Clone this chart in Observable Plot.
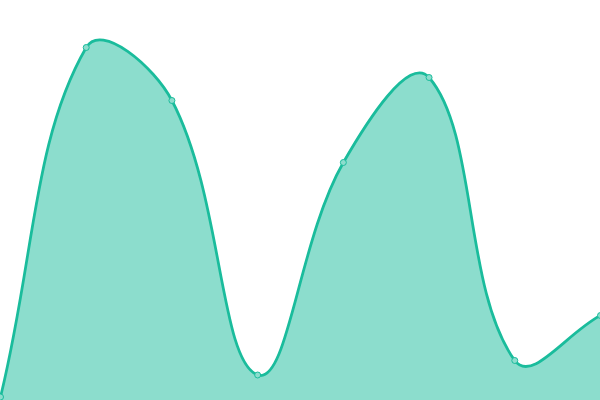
<!DOCTYPE html>
<html><head><meta charset="utf-8">
<script src="https://cdn.jsdelivr.net/npm/d3@7"></script>
<script src="https://cdn.jsdelivr.net/npm/@observablehq/plot@0.6"></script>
<style>body{margin:0;background:#fff}</style>
</head><body><div id="chart"></div>
<script>
const steps = [0, 1, 2, 3, 4, 5, 6, 7];
const values = [3.5, 353, 300, 25.5, 238, 323, 40, 85];
const data = steps.map((s, i) => ({x: s, y: values[i]}));

// spline with distance-weighted control points (tension 0.4), clamped to the plot area
function splineCurve(tension, W, H) {
  return function(context) {
    let line = NaN, xs = [], ys = [];
    const cx = v => Math.max(0, Math.min(W, v));
    const cy = v => Math.max(0, Math.min(H, v));
    return {
      areaStart() { line = 0; },
      areaEnd() { line = NaN; },
      lineStart() { xs = []; ys = []; },
      lineEnd() {
        const n = xs.length;
        if (n) {
          if (line) context.lineTo(xs[0], ys[0]); else context.moveTo(xs[0], ys[0]);
          const cp = [];
          for (let i = 0; i < n; i++) {
            const pi = Math.max(0, i - 1), ni = Math.min(n - 1, i + 1);
            const d01 = Math.hypot(xs[i] - xs[pi], ys[i] - ys[pi]);
            const d12 = Math.hypot(xs[ni] - xs[i], ys[ni] - ys[i]);
            let s01 = d01 / (d01 + d12), s12 = d12 / (d01 + d12);
            if (isNaN(s01)) s01 = 0;
            if (isNaN(s12)) s12 = 0;
            const fa = tension * s01, fb = tension * s12;
            const dx = xs[ni] - xs[pi], dy = ys[ni] - ys[pi];
            cp.push({px: cx(xs[i] - fa * dx), py: cy(ys[i] - fa * dy), nx: cx(xs[i] + fb * dx), ny: cy(ys[i] + fb * dy)});
          }
          for (let i = 1; i < n; i++) context.bezierCurveTo(cp[i - 1].nx, cp[i - 1].ny, cp[i].px, cp[i].py, xs[i], ys[i]);
        }
        if (line || (line !== 0 && n === 1)) context.closePath();
        line = 1 - line;
      },
      point(x, y) { xs.push(+x); ys.push(+y); }
    };
  };
}
const curve = splineCurve(0.4, 600, 400);

const chart = Plot.plot({
  width: 600, height: 400,
  margin: 0,
  x: {domain: [0, 7], axis: null},
  y: {domain: [0, 400], axis: null},
  marks: [
    Plot.areaY(data, {x: "x", y: "y", curve, fill: "#1abc9c", fillOpacity: 0.5}),
    Plot.lineY(data, {x: "x", y: "y", curve, stroke: "#1abc9c", strokeWidth: 2.75}),
    Plot.dot(data, {x: "x", y: "y", r: 3, fill: "#8cddcd", stroke: "#1abc9c", strokeWidth: 1})
  ]
});
document.getElementById("chart").append(chart);
</script></body></html>
